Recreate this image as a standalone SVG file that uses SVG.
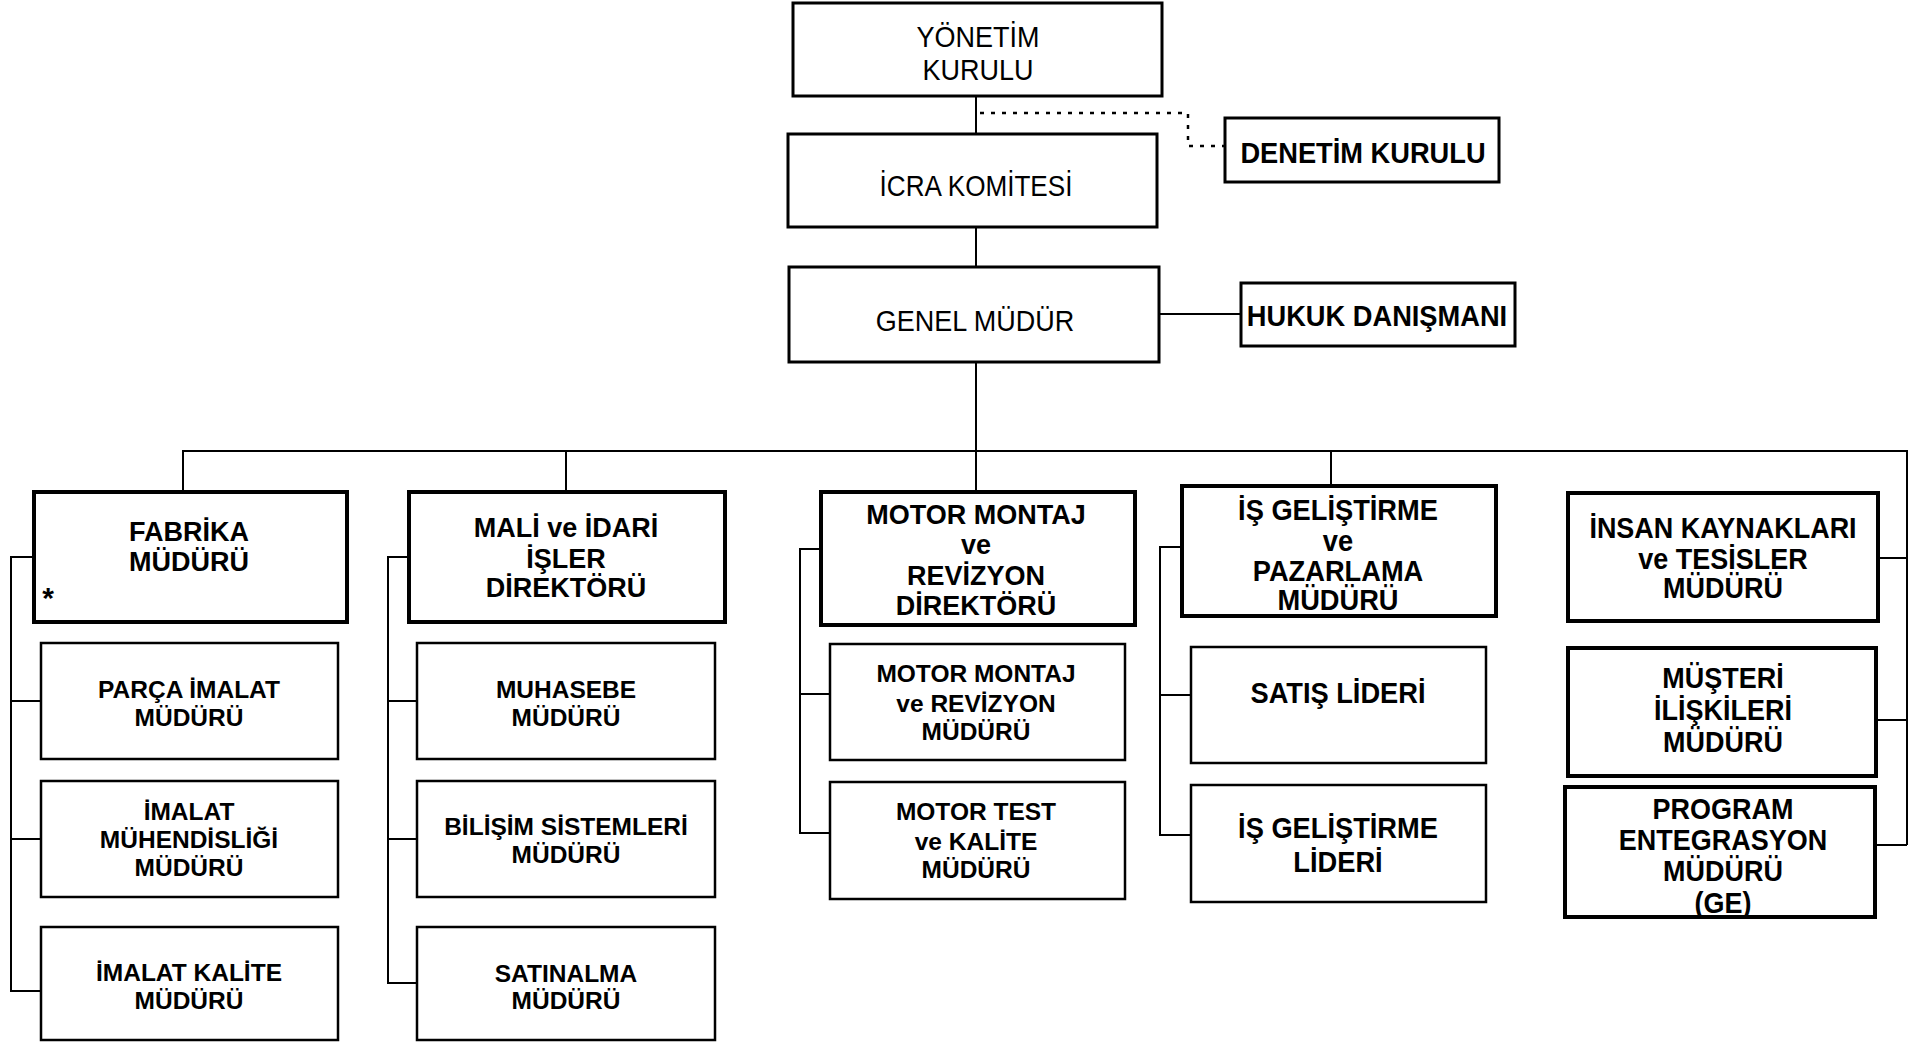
<svg xmlns="http://www.w3.org/2000/svg" width="1913" height="1043" viewBox="0 0 1913 1043">
<style>
.bg{fill:#fff}
.box{fill:#fff;stroke:#000;stroke-width:2.5}
.thick{fill:#fff;stroke:#000;stroke-width:4}
.mid{fill:#fff;stroke:#000;stroke-width:3}
.ln{fill:none;stroke:#000;stroke-width:2}
.dot{fill:none;stroke:#000;stroke-width:2.5;stroke-dasharray:4 7}
.b{font-family:"Liberation Sans",Arial,sans-serif;font-weight:bold;text-anchor:middle;fill:#000}
.h{font-size:27px}
.c{font-size:24.5px}
.n{font-family:"Liberation Sans",Arial,sans-serif;font-weight:bold;font-size:29px;text-anchor:middle;fill:#000}
.r{font-family:"Liberation Sans",Arial,sans-serif;font-size:30px;text-anchor:middle;fill:#000}
</style>
<rect class="bg" x="0" y="0" width="1913" height="1043"/>
<g id="connectors">
<path class="ln" d="M976 96V134M976 227V267M1159 314H1241M976 362V451"/>
<path class="dot" d="M980 113H1188V146H1224"/>
<path class="ln" d="M183 492V451H1907V845M1878 558H1907M1876 720H1907M1875 845H1907"/>
<path class="ln" d="M566 451V492M976 451V492M1331 451V486"/>
<path class="ln" d="M34 557H11V991H41M11 701H41M11 839H41"/>
<path class="ln" d="M409 557H388V983H417M388 701H417M388 839H417"/>
<path class="ln" d="M821 549H800V833H830M800 694H830"/>
<path class="ln" d="M1182 547H1160V835H1191M1160 695H1191"/>
</g>
<g id="yonetim">
<rect class="mid" x="793" y="3" width="369" height="93"/>
<g transform="translate(978 0) scale(0.9 1)"><text class="r" x="0" y="47">YÖNETİM</text><text class="r" x="0" y="80">KURULU</text></g>
</g>
<g id="icra">
<rect class="mid" x="788" y="134" width="369" height="93"/>
<g transform="translate(976 0) scale(0.87 1)"><text class="r" x="0" y="196">İCRA KOMİTESİ</text></g>
</g>
<g id="denetim">
<rect class="mid" x="1225" y="118" width="274" height="64"/>
<g transform="translate(1363 0) scale(0.94 1)"><text class="n" x="0" y="163">DENETİM KURULU</text></g>
</g>
<g id="genel">
<rect class="mid" x="789" y="267" width="370" height="95"/>
<g transform="translate(975 0) scale(0.9 1)"><text class="r" x="0" y="331">GENEL MÜDÜR</text></g>
</g>
<g id="hukuk">
<rect class="mid" x="1241" y="283" width="274" height="63"/>
<g transform="translate(1377 0) scale(0.94 1)"><text class="n" x="0" y="326">HUKUK DANIŞMANI</text></g>
</g>
<g id="fabrika">
<rect class="thick" x="34" y="492" width="313" height="130"/>
<text class="b h" x="189" y="541">FABRİKA</text><text class="b h" x="189" y="571">MÜDÜRÜ</text>
<text class="b" x="48" y="608" style="font-size:30px">*</text>
</g>
<g id="parca">
<rect class="box" x="41" y="643" width="297" height="116"/>
<text class="b c" x="189" y="698">PARÇA İMALAT</text><text class="b c" x="189" y="726">MÜDÜRÜ</text>
</g>
<g id="imalat-muh">
<rect class="box" x="41" y="781" width="297" height="116"/>
<text class="b c" x="189" y="820">İMALAT</text><text class="b c" x="189" y="848">MÜHENDİSLİĞİ</text><text class="b c" x="189" y="876">MÜDÜRÜ</text>
</g>
<g id="imalat-kalite">
<rect class="box" x="41" y="927" width="297" height="113"/>
<text class="b c" x="189" y="981">İMALAT KALİTE</text><text class="b c" x="189" y="1009">MÜDÜRÜ</text>
</g>
<g id="mali">
<rect class="thick" x="409" y="492" width="316" height="130"/>
<text class="b h" x="566" y="537">MALİ ve İDARİ</text><text class="b h" x="566" y="568">İŞLER</text><text class="b h" x="566" y="597">DİREKTÖRÜ</text>
</g>
<g id="muhasebe">
<rect class="box" x="417" y="643" width="298" height="116"/>
<text class="b c" x="566" y="698">MUHASEBE</text><text class="b c" x="566" y="726">MÜDÜRÜ</text>
</g>
<g id="bilisim">
<rect class="box" x="417" y="781" width="298" height="116"/>
<text class="b c" x="566" y="835">BİLİŞİM SİSTEMLERİ</text><text class="b c" x="566" y="863">MÜDÜRÜ</text>
</g>
<g id="satinalma">
<rect class="box" x="417" y="927" width="298" height="113"/>
<text class="b c" x="566" y="982">SATINALMA</text><text class="b c" x="566" y="1009">MÜDÜRÜ</text>
</g>
<g id="motor">
<rect class="thick" x="821" y="492" width="314" height="133"/>
<text class="b h" x="976" y="524">MOTOR MONTAJ</text><text class="b h" x="976" y="554">ve</text><text class="b h" x="976" y="585">REVİZYON</text><text class="b h" x="976" y="615">DİREKTÖRÜ</text>
</g>
<g id="motor-montaj">
<rect class="box" x="830" y="644" width="295" height="116"/>
<text class="b c" x="976" y="682">MOTOR MONTAJ</text><text class="b c" x="976" y="712">ve REVİZYON</text><text class="b c" x="976" y="740">MÜDÜRÜ</text>
</g>
<g id="motor-test">
<rect class="box" x="830" y="782" width="295" height="117"/>
<text class="b c" x="976" y="820">MOTOR TEST</text><text class="b c" x="976" y="850">ve KALİTE</text><text class="b c" x="976" y="878">MÜDÜRÜ</text>
</g>
<g id="is-gelistirme">
<rect class="thick" x="1182" y="486" width="314" height="130"/>
<g transform="translate(1338 0) scale(0.94 1)"><text class="n" x="0" y="520">İŞ GELİŞTİRME</text><text class="n" x="0" y="551">ve</text><text class="n" x="0" y="581">PAZARLAMA</text><text class="n" x="0" y="610">MÜDÜRÜ</text></g>
</g>
<g id="satis">
<rect class="box" x="1191" y="647" width="295" height="116"/>
<g transform="translate(1338 0) scale(0.94 1)"><text class="n" x="0" y="703">SATIŞ LİDERİ</text></g>
</g>
<g id="is-lideri">
<rect class="box" x="1191" y="785" width="295" height="117"/>
<g transform="translate(1338 0) scale(0.94 1)"><text class="n" x="0" y="838">İŞ GELİŞTİRME</text><text class="n" x="0" y="872">LİDERİ</text></g>
</g>
<g id="insan">
<rect class="thick" x="1568" y="493" width="310" height="128"/>
<g transform="translate(1723 0) scale(0.93 1)"><text class="n" x="0" y="538">İNSAN KAYNAKLARI</text><text class="n" x="0" y="569">ve TESİSLER</text><text class="n" x="0" y="598">MÜDÜRÜ</text></g>
</g>
<g id="musteri">
<rect class="thick" x="1568" y="648" width="308" height="128"/>
<g transform="translate(1723 0) scale(0.93 1)"><text class="n" x="0" y="688">MÜŞTERİ</text><text class="n" x="0" y="720">İLİŞKİLERİ</text><text class="n" x="0" y="752">MÜDÜRÜ</text></g>
</g>
<g id="program">
<rect class="thick" x="1565" y="787" width="310" height="130"/>
<g transform="translate(1723 0) scale(0.93 1)"><text class="n" x="0" y="819">PROGRAM</text><text class="n" x="0" y="850">ENTEGRASYON</text><text class="n" x="0" y="881">MÜDÜRÜ</text><text class="n" x="0" y="913">(GE)</text></g>
</g>
</svg>
